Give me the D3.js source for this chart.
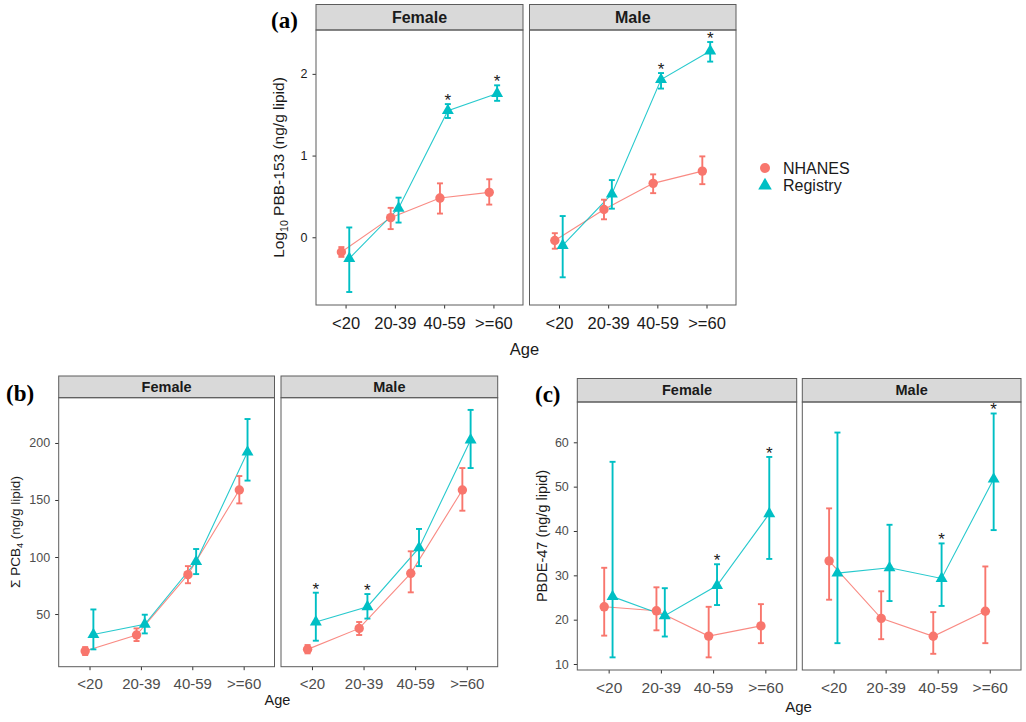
<!DOCTYPE html>
<html><head><meta charset="utf-8">
<script src="https://cdn.jsdelivr.net/npm/d3@7"></script>
<style>body{margin:0;background:#fff;} svg{display:block;}</style>
</head><body>
<svg id="chart" width="1026" height="722"></svg>
<script>
// ---------- data ----------
const ages = ["<20", "20-39", "40-59", ">=60"];
const seriesNames = ["NHANES", "Registry"];
const seriesColors = ["#F8766D", "#00BFC4"];
const sexes = ["Female", "Male"];

// each entry: [estimate, lower, upper]
const pbbFemaleNhanes   = [[-0.18, -0.24, -0.12], [0.24, 0.10, 0.36], [0.48, 0.29, 0.66], [0.55, 0.40, 0.71]];
const pbbFemaleRegistry = [[-0.26, -0.67, 0.12], [0.355, 0.18, 0.485], [1.55, 1.46, 1.63], [1.76, 1.67, 1.86]];
const pbbMaleNhanes     = [[-0.04, -0.14, 0.05], [0.34, 0.22, 0.46], [0.66, 0.54, 0.77], [0.81, 0.65, 0.99]];
const pbbMaleRegistry   = [[-0.10, -0.49, 0.26], [0.53, 0.35, 0.70], [1.93, 1.82, 2.01], [2.28, 2.15, 2.39]];
const pbbFemaleStars = ["40-59", ">=60"];
const pbbMaleStars   = ["40-59", ">=60"];
const pbbTicks = [0, 1, 2];

const pcbFemaleNhanes   = [[17.5, 14, 21], [31.6, 26.3, 37.4], [84.5, 77, 92], [158.8, 147, 171]];
const pcbFemaleRegistry = [[32, 19, 54], [41, 33, 49.4], [96, 85, 107], [192, 167, 221]];
const pcbMaleNhanes     = [[19, 15.5, 22.8], [37.4, 31.6, 43], [85.7, 69, 105], [158.8, 140.6, 178]];
const pcbMaleRegistry   = [[43, 26.6, 68.7], [56.4, 46, 67.5], [108, 92, 124.6], [202.6, 178, 229]];
const pcbFemaleStars = [];
const pcbMaleStars   = ["<20", "20-39"];
const pcbTicks = [50, 100, 150, 200];

const pbdeFemaleNhanes   = [[22.9, 16.4, 31.7], [22.0, 17.6, 27.3], [16.3, 11.5, 22.9], [18.6, 14.7, 23.5]];
const pbdeFemaleRegistry = [[25.2, 11.5, 55.6], [20.9, 16.2, 27.1], [27.7, 23.3, 32.5], [43.9, 33.7, 56.7]];
const pbdeMaleNhanes     = [[33.25, 24.5, 45.1], [20.3, 15.6, 26.4], [16.25, 12.3, 21.7], [21.9, 14.7, 32.0]];
const pbdeMaleRegistry   = [[30.5, 14.7, 62.2], [31.7, 24.2, 41.4], [29.3, 23.1, 37.2], [51.7, 40.2, 66.5]];
const pbdeFemaleStars = ["40-59", ">=60"];
const pbdeMaleStars   = ["40-59", ">=60"];
const pbdeTicks = [10, 20, 30, 40, 50, 60];

// ---------- drawing ----------
const svg = d3.select("#chart");
svg.append("rect").attr("width", 1026).attr("height", 722).attr("fill", "#fff");
const FONT = "'Liberation Sans', Arial, Helvetica, sans-serif";
const SERIF = "'Liberation Serif', 'Times New Roman', serif";
const BORDER = "#5c5c5c";

const triangle = d3.symbol().type(d3.symbolTriangle).size(62);

function drawPanel(o) {
  const g = svg.append("g");
  const x = d3.scalePoint().domain(ages).range([o.x0, o.x1]).padding(0.6);
  const step = x.step();
  const y = d3.scaleLinear().domain(o.yDomain).range([o.bottom, o.top]);

  // strip
  g.append("rect").attr("x", o.x0).attr("y", o.stripTop)
    .attr("width", o.x1 - o.x0).attr("height", o.top - o.stripTop)
    .attr("fill", "#D9D9D9").attr("stroke", BORDER).attr("stroke-width", 1);
  g.append("text").text(o.title)
    .attr("x", (o.x0 + o.x1) / 2).attr("y", (o.stripTop + o.top) / 2 + o.stripFs * 0.36)
    .attr("text-anchor", "middle").attr("font-family", FONT).attr("font-weight", "bold")
    .attr("font-size", o.stripFs).attr("fill", "#1a1a1a");

  // axes
  const xa = g.append("g").attr("transform", `translate(0,${o.bottom})`)
    .call(d3.axisBottom(x).tickSize(3.5).tickPadding(8.5));
  xa.select(".domain").remove();
  xa.selectAll("line").attr("stroke", "#333");
  xa.selectAll("text").attr("font-size", o.xFs).attr("fill", o.tickColor).attr("font-family", FONT);

  if (o.showY) {
    const ya = g.append("g").attr("transform", `translate(${o.x0},0)`)
      .call(d3.axisLeft(y).tickValues(o.yTicks).tickSize(3.5).tickPadding(5).tickFormat(d3.format("d")));
    ya.select(".domain").remove();
    ya.selectAll("line").attr("stroke", "#333");
    ya.selectAll("text").attr("font-size", o.yFs).attr("fill", o.tickColor).attr("font-family", FONT);
  }

  const dodge = [-0.085, 0.075];
  const allSeries = [o.nh, o.rg];
  const px = (si, i) => x(ages[i]) + dodge[si] * step;

  // connecting lines
  allSeries.forEach((data, si) => {
    g.append("path").datum(data)
      .attr("d", d3.line().x((d, i) => px(si, i)).y(d => y(d[0])))
      .attr("fill", "none").attr("stroke", seriesColors[si])
      .attr("stroke-width", 1.1).attr("stroke-opacity", 0.85);
  });
  // error bars
  allSeries.forEach((data, si) => {
    const eb = g.append("g").attr("stroke", seriesColors[si]).attr("stroke-width", 1.9).attr("fill", "none");
    data.forEach((d, i) => {
      const cx = px(si, i);
      eb.append("line").attr("x1", cx).attr("x2", cx).attr("y1", y(d[1])).attr("y2", y(d[2]));
      eb.append("line").attr("x1", cx - 3).attr("x2", cx + 3).attr("y1", y(d[1])).attr("y2", y(d[1]));
      eb.append("line").attr("x1", cx - 3).attr("x2", cx + 3).attr("y1", y(d[2])).attr("y2", y(d[2]));
    });
  });
  // points
  o.nh.forEach((d, i) => {
    g.append("circle").attr("cx", px(0, i)).attr("cy", y(d[0])).attr("r", 4.7).attr("fill", seriesColors[0]);
  });
  o.rg.forEach((d, i) => {
    g.append("path").attr("d", triangle)
      .attr("transform", `translate(${px(1, i)},${y(d[0])})`).attr("fill", seriesColors[1]);
  });
  // significance stars
  o.stars.forEach(a => {
    const i = ages.indexOf(a);
    g.append("text").text("*")
      .attr("x", px(1, i)).attr("y", y(o.rg[i][2]) + 2)
      .attr("text-anchor", "middle").attr("font-family", FONT)
      .attr("font-size", 17).attr("fill", "#1a1a1a");
  });

  // panel border
  g.append("rect").attr("x", o.x0).attr("y", o.top)
    .attr("width", o.x1 - o.x0).attr("height", o.bottom - o.top)
    .attr("fill", "none").attr("stroke", BORDER).attr("stroke-width", 1);
}

function yTitle(xb, yc, fs, parts) {
  const t = svg.append("text")
    .attr("transform", `translate(${xb},${yc}) rotate(-90)`)
    .attr("text-anchor", "middle").attr("font-family", FONT)
    .attr("font-size", fs).attr("fill", "#1a1a1a");
  parts.forEach(p => {
    const s = t.append("tspan").text(p.t);
    if (p.sub) s.attr("font-size", fs * 0.68).attr("dy", fs * 0.25);
    if (p.back) s.attr("dy", -fs * 0.25);
  });
}
function xTitle(xc, yb, fs) {
  svg.append("text").text("Age").attr("x", xc).attr("y", yb)
    .attr("text-anchor", "middle").attr("font-family", FONT)
    .attr("font-size", fs).attr("fill", "#1a1a1a");
}
function tag(txt, xl, yb) {
  svg.append("text").text(txt).attr("x", xl).attr("y", yb)
    .attr("font-family", SERIF).attr("font-weight", "bold")
    .attr("font-size", 23).attr("fill", "#000");
}

// ----- (a) PBB-153 -----
const aCommon = { stripTop: 4.5, top: 30, bottom: 305, yDomain: [-0.829, 2.537], yTicks: pbbTicks,
  stripFs: 16, xFs: 16.5, yFs: 12.5, tickColor: "#1a1a1a" };
drawPanel({ ...aCommon, x0: 316, x1: 523, title: sexes[0], nh: pbbFemaleNhanes, rg: pbbFemaleRegistry, stars: pbbFemaleStars, showY: true });
drawPanel({ ...aCommon, x0: 529.5, x1: 736, title: sexes[1], nh: pbbMaleNhanes, rg: pbbMaleRegistry, stars: pbbMaleStars, showY: false });
yTitle(284, 167.5, 15.5, [{ t: "Log" }, { t: "10", sub: true }, { t: " PBB-153 (ng/g lipid)", back: true }]);
xTitle(524.5, 354.5, 16.5);
tag("(a)", 271, 28);

// legend
const legend = svg.append("g").attr("font-family", FONT);
seriesNames.forEach((name, si) => {
  const ly = 168 + si * 17;
  if (si === 0) legend.append("circle").attr("cx", 765).attr("cy", ly).attr("r", 5).attr("fill", seriesColors[si]);
  else legend.append("path").attr("d", d3.symbol().type(d3.symbolTriangle).size(80))
    .attr("transform", `translate(765,${ly + 0.5})`).attr("fill", seriesColors[si]);
  legend.append("text").text(name).attr("x", 783).attr("y", ly + 5.8)
    .attr("font-size", 16).attr("fill", "#1a1a1a");
});

// ----- (b) PCB -----
const bCommon = { stripTop: 376, top: 397.7, bottom: 666.7, yDomain: [3.8, 239.7], yTicks: pcbTicks,
  stripFs: 14.5, xFs: 15, yFs: 12.5, tickColor: "#4d4d4d" };
drawPanel({ ...bCommon, x0: 58.7, x1: 274.5, title: sexes[0], nh: pcbFemaleNhanes, rg: pcbFemaleRegistry, stars: pcbFemaleStars, showY: true });
drawPanel({ ...bCommon, x0: 281, x1: 497.7, title: sexes[1], nh: pcbMaleNhanes, rg: pcbMaleRegistry, stars: pcbMaleStars, showY: false });
yTitle(19.5, 532, 13.5, [{ t: "\u03A3 PCB" }, { t: "4", sub: true }, { t: " (ng/g lipid)", back: true }]);
xTitle(277.5, 705, 14.5);
tag("(b)", 6, 401);

// ----- (c) PBDE-47 -----
const cCommon = { stripTop: 378.5, top: 402, bottom: 670, yDomain: [8.65, 69.09], yTicks: pbdeTicks,
  stripFs: 14.5, xFs: 15.5, yFs: 12.5, tickColor: "#4d4d4d" };
drawPanel({ ...cCommon, x0: 577.3, x1: 796.7, title: sexes[0], nh: pbdeFemaleNhanes, rg: pbdeFemaleRegistry, stars: pbdeFemaleStars, showY: true });
drawPanel({ ...cCommon, x0: 802.3, x1: 1021, title: sexes[1], nh: pbdeMaleNhanes, rg: pbdeMaleRegistry, stars: pbdeMaleStars, showY: false });
yTitle(546.5, 536, 14.5, [{ t: "PBDE-47 (ng/g lipid)" }]);
xTitle(798.5, 712, 15);
tag("(c)", 535, 402);
</script>
</body></html>
